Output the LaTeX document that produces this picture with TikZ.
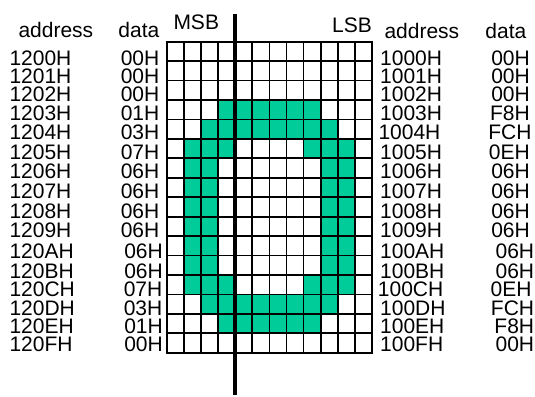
\documentclass[tikz,border=0pt]{standalone}
\usepackage{fontspec}
\setmainfont{Liberation Sans}
\definecolor{cellfill}{RGB}{0,204,153}
\begin{document}
\begin{tikzpicture}[x=1pt,y=-1pt,
  lbl/.style={inner sep=0pt,font=\fontsize{21}{21}\selectfont},
  gridline/.style={line width=1.7pt,black},
  cellfill/.style={fill=cellfill}]
\useasboundingbox (0,0) rectangle (535,396);
\def\gx{166.7}\def\gy{41.7}\def\cw{17.11}\def\rh{19.44}
% filled cells: row / from col / to col (inclusive)
\foreach \r/\a/\b in {3/3/8,4/2/9,5/1/3,5/8/10,6/1/2,6/9/10,7/1/2,7/9/10,8/1/2,8/9/10,9/1/2,9/9/10,10/1/2,10/9/10,11/1/2,11/9/10,12/1/3,12/8/10,13/2/9,14/3/8}{
  \fill[cellfill] ({\gx+\a*\cw},{\gy+\r*\rh}) rectangle ({\gx+(\b+1)*\cw},{\gy+(\r+1)*\rh});
}
\foreach \i in {0,...,12}{
  \draw[gridline] ({\gx+\i*\cw},{\gy}) -- ({\gx+\i*\cw},{\gy+16*\rh});
}
\foreach \j in {0,...,16}{
  \draw[gridline] ({\gx-0.85},{\gy+\j*\rh}) -- ({\gx+12*\cw+0.85},{\gy+\j*\rh});
}
% thick divider
\coordinate (divtop) at ({\gx+4*\cw},14);
\coordinate (divbot) at ({\gx+4*\cw},395);
\draw[line width=4pt] (divtop) -- (divbot);
% headers
\node[lbl,anchor=base west] (haddrL) at (18.3,37.3) {address};
\node[lbl,anchor=base east] (hdataL) at (159.5,37.3) {data};
\node[lbl,anchor=base west] (msb) at (173.3,29.3) {MSB};
\node[lbl,anchor=base east] (lsb) at (372,32.3) {LSB};
\node[lbl,anchor=base west] (haddrR) at (384.3,39) {address};
\node[lbl,anchor=base east] (hdataR) at (526.5,39) {data};
% rows
\foreach \k/\y/\la/\ld/\ldx/\ra/\rax/\rd/\rdx in {
 0/65.3/1200H/00H/159.5/1000H/380/00H/530,
 1/83.5/1201H/00H/159.5/1001H/380/00H/530,
 2/101.7/1202H/00H/159.5/1002H/380/00H/530,
 3/120.3/1203H/01H/159.5/1003H/380/F8H/530,
 4/139.5/1204H/03H/159.5/1004H/378.3/FCH/531.7,
 5/159.3/1205H/07H/159.5/1005H/380/0EH/530,
 6/178.5/1206H/06H/159.5/1006H/380/06H/530,
 7/198/1207H/06H/159.5/1007H/380/06H/530,
 8/218.3/1208H/06H/159.5/1008H/380/06H/530,
 9/237.5/1209H/06H/159.5/1009H/380/06H/530,
 10/258/120AH/06H/163/100AH/380/06H/534.3,
 11/278.3/120BH/06H/163/100BH/380/06H/534.3,
 12/296.7/120CH/07H/162.5/100CH/377.7/0EH/531.7,
 13/315/120DH/03H/162.5/100DH/380/FCH/534.3,
 14/333.5/120EH/01H/163/100EH/380/F8H/534.3,
 15/351.7/120FH/00H/163/100FH/380/00H/534.3}{
  \node[lbl,anchor=base west] (addrL\k) at (9.3,\y) {\la};
  \node[lbl,anchor=base east] (dataL\k) at (\ldx,\y) {\ld};
  \node[lbl,anchor=base west] (addrR\k) at (\rax,\y) {\ra};
  \node[lbl,anchor=base east] (dataR\k) at (\rdx,\y) {\rd};
}
\end{tikzpicture}
\end{document}
